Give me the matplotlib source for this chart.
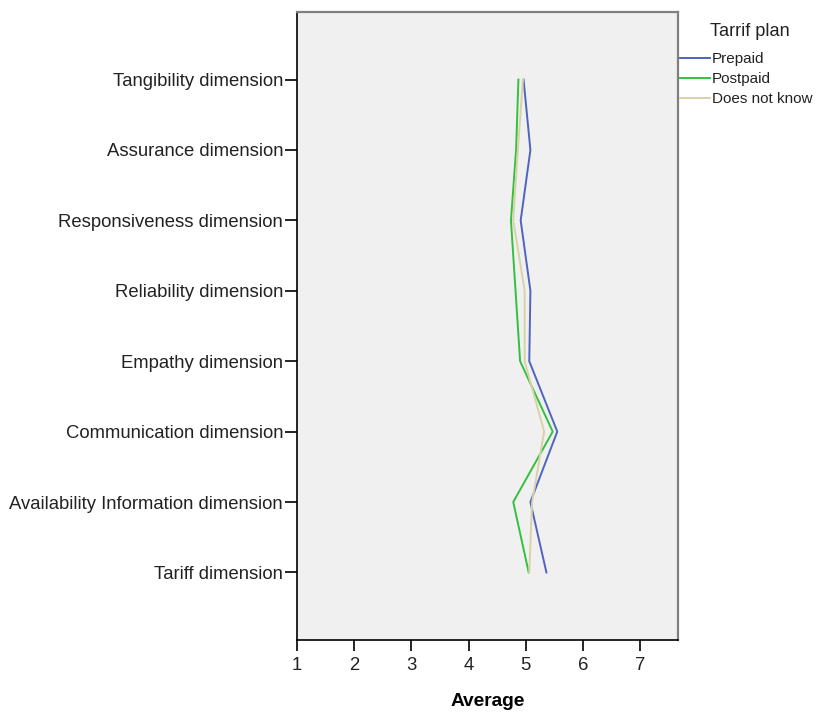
import matplotlib
matplotlib.use("Agg")
import matplotlib.pyplot as plt

plt.rcParams['font.family'] = ['Liberation Sans', 'DejaVu Sans']

dimensions = [
    "Tangibility dimension",
    "Assurance dimension",
    "Responsiveness dimension",
    "Reliability dimension",
    "Empathy dimension",
    "Communication dimension",
    "Availability Information dimension",
    "Tariff dimension",
]
prepaid = [4.96, 5.08, 4.91, 5.08, 5.06, 5.55, 5.08, 5.36]
postpaid = [4.87, 4.83, 4.74, 4.82, 4.90, 5.47, 4.78, 5.05]
unknown = [4.95, 4.86, 4.78, 4.98, 4.98, 5.32, 5.11, 5.06]
x_ticks = [1, 2, 3, 4, 5, 6, 7]

fig = plt.figure(figsize=(8.2, 7.13), dpi=100)
fig.patch.set_facecolor("white")
ax = fig.add_axes([297 / 820, 1 - 640 / 713, (678 - 297) / 820, (640 - 12) / 713])
ax.set_facecolor("#F0F0F0")

ypos = list(range(len(dimensions)))
ax.plot(prepaid, ypos, color="#4F63C1", lw=1.4, label="Prepaid")
ax.plot(postpaid, ypos, color="#34C03F", lw=1.4, label="Postpaid")
ax.plot(unknown, ypos, color="#D8D3A6", lw=1.4, label="Does not know")

ax.set_xlim(1, 7.66)
ax.set_ylim(7.96, -0.96)
ax.set_xticks(x_ticks)
ax.set_xticklabels([str(v) for v in x_ticks])
ax.set_yticks(ypos)
ax.set_yticklabels(dimensions)
ax.tick_params(axis="y", length=9, width=1.2, pad=1, labelsize=13.3, colors="black")
ax.tick_params(axis="x", length=8, width=1.2, pad=4, labelsize=13.3, colors="black")
for lbl in ax.get_yticklabels() + ax.get_xticklabels():
    lbl.set_color("#222222")

ax.spines["left"].set_color("black")
ax.spines["bottom"].set_color("black")
ax.spines["left"].set_linewidth(1.2)
ax.spines["bottom"].set_linewidth(1.2)
ax.spines["top"].set_color("#808080")
ax.spines["right"].set_color("#808080")
ax.spines["top"].set_linewidth(1.6)
ax.spines["right"].set_linewidth(1.6)

ax.set_xlabel("Average", fontsize=13.8, fontweight="bold", labelpad=14)

fig.text(710 / 820, 1 - 31 / 713, "Tarrif plan", fontsize=13.1,
         ha="left", va="center", color="#222222")
leg = fig.legend(
    loc="upper left",
    bbox_to_anchor=(680 / 820, 1 - 52 / 713),
    frameon=False,
    fontsize=11.0,
    handlelength=1.95,
    handletextpad=0.15,
    labelspacing=0.4,
    borderaxespad=0,
    borderpad=0,
)
for t in leg.get_texts():
    t.set_color("#222222")

fig.savefig("out.png", dpi=100)
